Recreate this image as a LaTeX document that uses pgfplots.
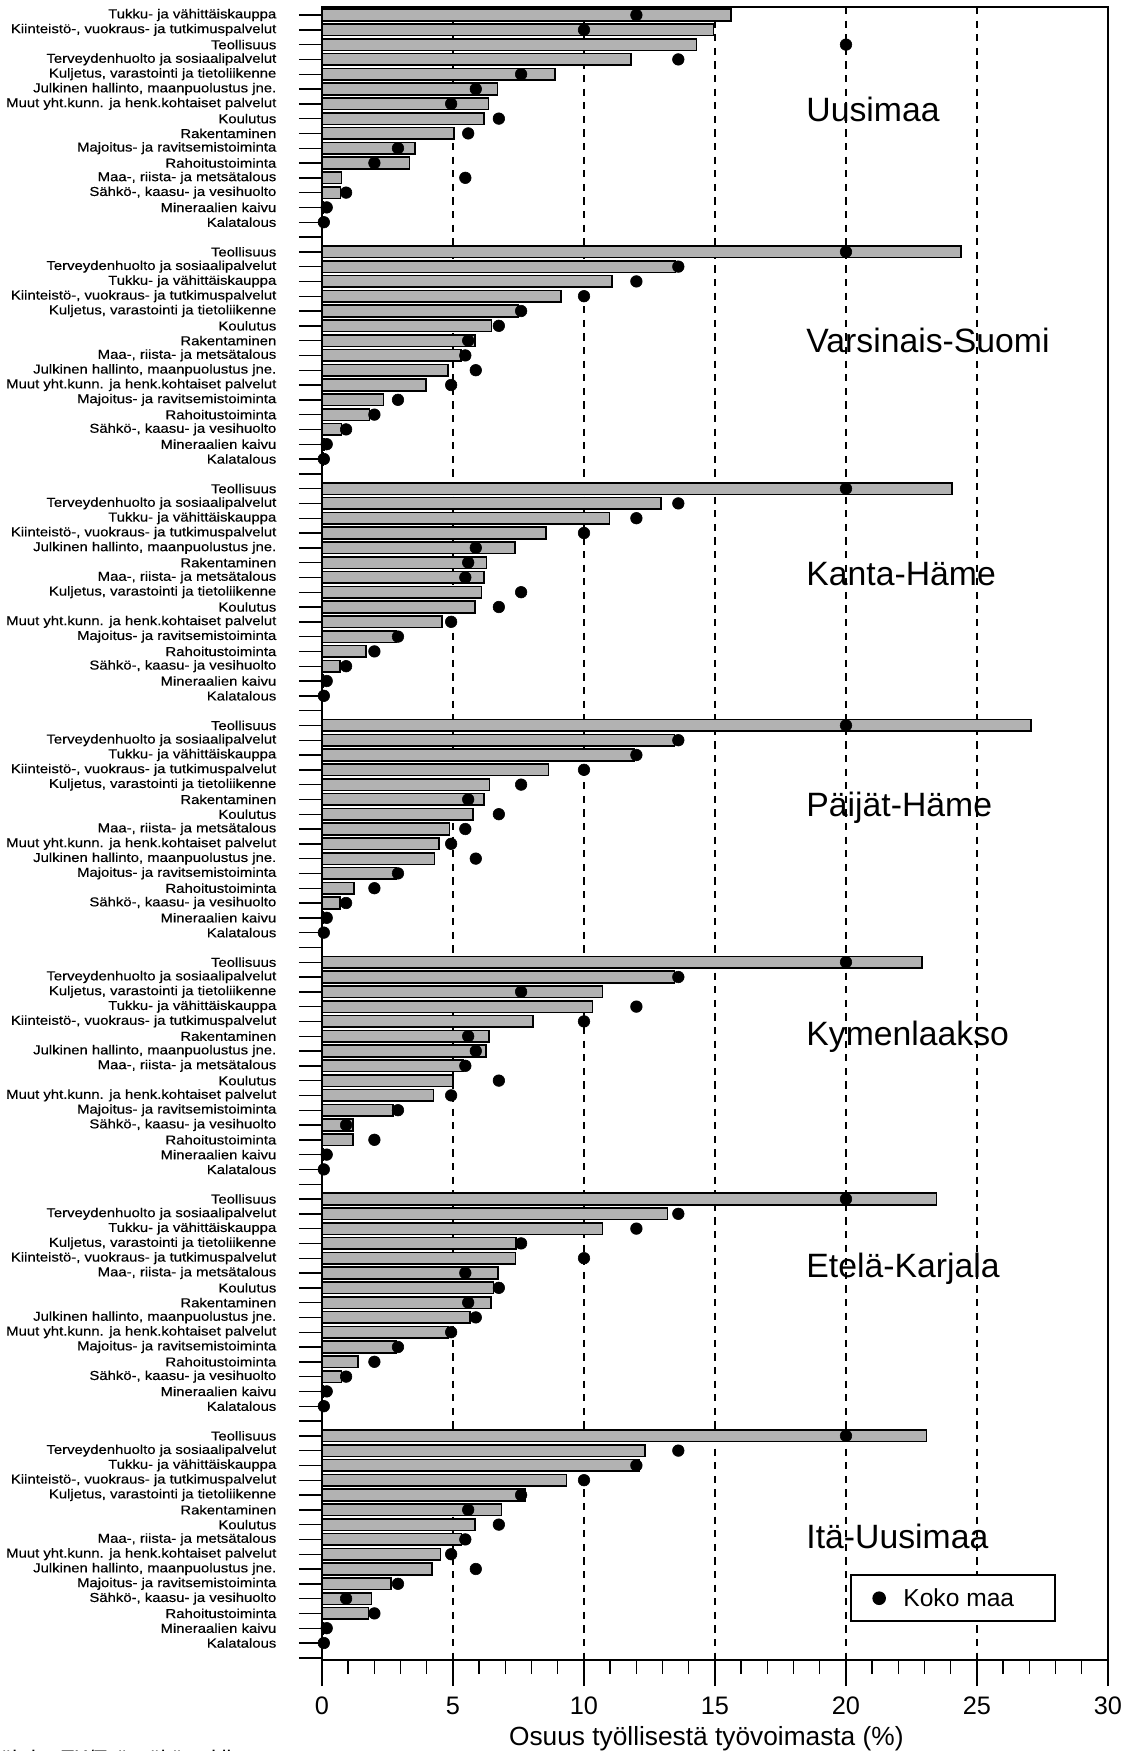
\documentclass[border=0pt]{standalone}
\usepackage{fontspec}
\setmainfont{Liberation Sans}
\newfontfamily\lblfont{Liberation Sans}[FakeStretch=1.15, FakeBold=0.4]
\usepackage{pgfplots}
\usepackage{pgfplotstable}
\pgfplotsset{compat=1.18}

% pos = row (16 rows per region), bar = region share, dot = whole country
\pgfplotstableread[col sep=semicolon]{
pos;bar;dot;label
1;15.6;12.0;Tukku- ja vähittäiskauppa
2;14.95;10.0;Kiinteistö-,  vuokraus- ja tutkimuspalvelut
3;14.3;20.0;Teollisuus
4;11.8;13.6;Terveydenhuolto ja sosiaalipalvelut
5;8.9;7.6;Kuljetus,  varastointi ja tietoliikenne
6;6.7;5.87;Julkinen hallinto, maanpuolustus jne.
7;6.35;4.93;Muut yht.kunn. ja henk.kohtaiset palvelut
8;6.18;6.75;Koulutus
9;5.03;5.58;Rakentaminen
10;3.56;2.9;Majoitus- ja ravitsemistoiminta
11;3.34;2.0;Rahoitustoiminta
12;0.74;5.47;Maa-, riista- ja metsätalous
13;0.7;0.92;Sähkö-, kaasu- ja vesihuolto
14;0.06;0.18;Mineraalien kaivu
15;0.02;0.07;Kalatalous
17;24.4;20.0;Teollisuus
18;13.5;13.6;Terveydenhuolto ja sosiaalipalvelut
19;11.08;12.0;Tukku- ja vähittäiskauppa
20;9.12;10.0;Kiinteistö-,  vuokraus- ja tutkimuspalvelut
21;7.5;7.6;Kuljetus,  varastointi ja tietoliikenne
22;6.47;6.75;Koulutus
23;5.84;5.58;Rakentaminen
24;5.3;5.47;Maa-, riista- ja metsätalous
25;4.8;5.87;Julkinen hallinto, maanpuolustus jne.
26;3.98;4.93;Muut yht.kunn. ja henk.kohtaiset palvelut
27;2.35;2.9;Majoitus- ja ravitsemistoiminta
28;1.82;2.0;Rahoitustoiminta
29;0.75;0.92;Sähkö-, kaasu- ja vesihuolto
30;0.1;0.18;Mineraalien kaivu
31;0.03;0.07;Kalatalous
33;24.05;20.0;Teollisuus
34;12.93;13.6;Terveydenhuolto ja sosiaalipalvelut
35;10.97;12.0;Tukku- ja vähittäiskauppa
36;8.54;10.0;Kiinteistö-,  vuokraus- ja tutkimuspalvelut
37;7.36;5.87;Julkinen hallinto, maanpuolustus jne.
38;6.28;5.58;Rakentaminen
39;6.18;5.47;Maa-, riista- ja metsätalous
40;6.09;7.6;Kuljetus,  varastointi ja tietoliikenne
41;5.84;6.75;Koulutus
42;4.59;4.93;Muut yht.kunn. ja henk.kohtaiset palvelut
43;2.82;2.9;Majoitus- ja ravitsemistoiminta
44;1.67;2.0;Rahoitustoiminta
45;0.69;0.92;Sähkö-, kaasu- ja vesihuolto
46;0.05;0.18;Mineraalien kaivu
47;0.02;0.07;Kalatalous
49;27.05;20.0;Teollisuus
50;13.45;13.6;Terveydenhuolto ja sosiaalipalvelut
51;11.9;12.0;Tukku- ja vähittäiskauppa
52;8.64;10.0;Kiinteistö-,  vuokraus- ja tutkimuspalvelut
53;6.4;7.6;Kuljetus,  varastointi ja tietoliikenne
54;6.18;5.58;Rakentaminen
55;5.77;6.75;Koulutus
56;4.86;5.47;Maa-, riista- ja metsätalous
57;4.47;4.93;Muut yht.kunn. ja henk.kohtaiset palvelut
58;4.29;5.87;Julkinen hallinto, maanpuolustus jne.
59;2.82;2.9;Majoitus- ja ravitsemistoiminta
60;1.23;2.0;Rahoitustoiminta
61;0.69;0.92;Sähkö-, kaasu- ja vesihuolto
62;0.05;0.18;Mineraalien kaivu
63;0.02;0.07;Kalatalous
65;22.9;20.0;Teollisuus
66;13.45;13.6;Terveydenhuolto ja sosiaalipalvelut
67;10.7;7.6;Kuljetus,  varastointi ja tietoliikenne
68;10.33;12.0;Tukku- ja vähittäiskauppa
69;8.05;10.0;Kiinteistö-,  vuokraus- ja tutkimuspalvelut
70;6.38;5.58;Rakentaminen
71;6.26;5.87;Julkinen hallinto, maanpuolustus jne.
72;5.4;5.47;Maa-, riista- ja metsätalous
73;5.0;6.75;Koulutus
74;4.25;4.93;Muut yht.kunn. ja henk.kohtaiset palvelut
75;2.7;2.9;Majoitus- ja ravitsemistoiminta
76;1.18;0.92;Sähkö-, kaasu- ja vesihuolto
77;1.18;2.0;Rahoitustoiminta
78;0.05;0.18;Mineraalien kaivu
79;0.02;0.07;Kalatalous
81;23.46;20.0;Teollisuus
82;13.18;13.6;Terveydenhuolto ja sosiaalipalvelut
83;10.7;12.0;Tukku- ja vähittäiskauppa
84;7.41;7.6;Kuljetus,  varastointi ja tietoliikenne
85;7.39;10.0;Kiinteistö-,  vuokraus- ja tutkimuspalvelut
86;6.72;5.47;Maa-, riista- ja metsätalous
87;6.55;6.75;Koulutus
88;6.45;5.58;Rakentaminen
89;5.64;5.87;Julkinen hallinto, maanpuolustus jne.
90;4.81;4.93;Muut yht.kunn. ja henk.kohtaiset palvelut
91;2.82;2.9;Majoitus- ja ravitsemistoiminta
92;1.37;2.0;Rahoitustoiminta
93;0.74;0.92;Sähkö-, kaasu- ja vesihuolto
94;0.05;0.18;Mineraalien kaivu
95;0.02;0.07;Kalatalous
97;23.08;20.0;Teollisuus
98;12.32;13.6;Terveydenhuolto ja sosiaalipalvelut
99;12.1;12.0;Tukku- ja vähittäiskauppa
100;9.33;10.0;Kiinteistö-,  vuokraus- ja tutkimuspalvelut
101;7.75;7.6;Kuljetus,  varastointi ja tietoliikenne
102;6.85;5.58;Rakentaminen
103;5.84;6.75;Koulutus
104;5.33;5.47;Maa-, riista- ja metsätalous
105;4.52;4.93;Muut yht.kunn. ja henk.kohtaiset palvelut
106;4.2;5.87;Julkinen hallinto, maanpuolustus jne.
107;2.63;2.9;Majoitus- ja ravitsemistoiminta
108;1.89;0.92;Sähkö-, kaasu- ja vesihuolto
109;1.77;2.0;Rahoitustoiminta
110;0.05;0.18;Mineraalien kaivu
111;0.02;0.07;Kalatalous
}\data

\begin{document}
\begin{tikzpicture}
\begin{axis}[
  scale only axis,
  width=196.5mm, height=413.25mm,
  xmin=0, xmax=30, ymin=0.46, ymax=112.15,
  y dir=reverse,
  clip=false,
  axis line style={line width=0.5mm},
  xtick={0,5,...,30},
  minor x tick num=4,
  ytick=data,
  yticklabels from table={\data}{label},
  extra y ticks={16,32,48,64,80,96,112},
  extra y tick labels={},
  tick align=outside,
  xtick pos=left, ytick pos=left,
  major tick length=5.75mm,
  minor tick length=3.5mm,
  xtick style={/pgfplots/major tick length=6.5mm, line width=0.35mm, black},
  ytick style={line width=0.35mm, black},
  xmajorgrids,
  major grid style={black, line width=0.35mm, dash pattern=on 1.8mm off 1.6mm},
  yticklabel style={font=\lblfont\fontsize{9.2}{10}\selectfont, inner sep=0pt, xshift=-5.6mm},
  xticklabel style={font=\fontsize{18}{18}\selectfont, yshift=-2.2mm},
  /pgf/number format/assume math mode=true,
  xlabel={Osuus työllisestä työvoimasta (\%)},
  xlabel style={font=\fontsize{18.7}{20}\selectfont, at={(axis description cs:0.489,0)}, anchor=base, yshift=-21.4mm},
  legend style={at={(axis description cs:0.9338,0.023)}, anchor=south east, draw=black, line width=0.5mm,
    font=\fontsize{17.5}{20}\selectfont, inner xsep=5.6mm, inner ysep=2.5mm,
    /tikz/every odd column/.append style={column sep=3.9mm}},
  legend cell align=left,
]
\addplot[xbar, bar width=0.78, fill=black!30, draw=black, line width=0.4mm, forget plot]
  table[x=bar, y=pos] {\data};
\addplot[only marks, mark=*, mark size=1.45mm, black]
  table[x=dot, y=pos] {\data};
\addlegendentry{Koko maa\rule{3.9mm}{0pt}}

\node[anchor=base west, font=\fontsize{24}{24}\selectfont] at (axis cs:18.3,8.2) {Uusimaa};
\node[anchor=base west, font=\fontsize{24}{24}\selectfont] at (axis cs:18.3,23.82) {Varsinais-Suomi};
\node[anchor=base west, font=\fontsize{24}{24}\selectfont] at (axis cs:18.3,39.52) {Kanta-Häme};
\node[anchor=base west, font=\fontsize{24}{24}\selectfont] at (axis cs:18.3,55.14) {Päijät-Häme};
\node[anchor=base west, font=\fontsize{24}{24}\selectfont] at (axis cs:18.3,70.6) {Kymenlaakso};
\node[anchor=base west, font=\fontsize{24}{24}\selectfont] at (axis cs:18.3,86.3) {Etelä-Karjala};
\node[anchor=base west, font=\fontsize{24}{24}\selectfont] at (axis cs:18.3,104.6) {Itä-Uusimaa};
\end{axis}
\node[anchor=base west, font=\fontsize{15}{15}\selectfont] at (-84.5mm,-26.25mm) {Lähde: TK/Työssäkäyntitilasto};
\pgfresetboundingbox
\path (-80.5mm,-22.75mm) rectangle (201.75mm,415mm);
\end{tikzpicture}
\end{document}
